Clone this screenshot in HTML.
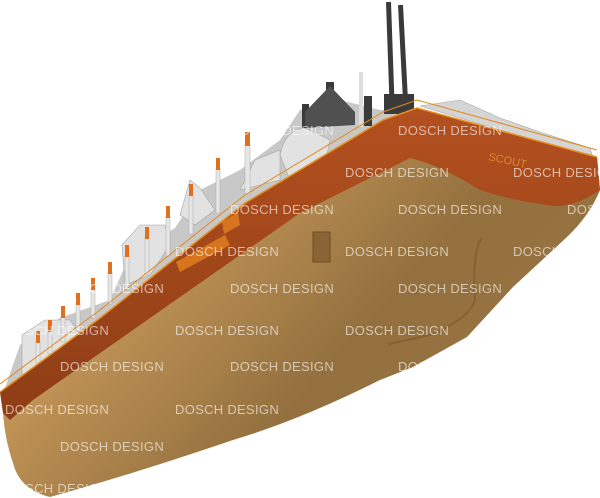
<!DOCTYPE html>
<html><head><meta charset="utf-8"><style>
html,body{margin:0;padding:0;background:#fff;}
svg{display:block}
.w{font-family:"Liberation Sans",sans-serif;font-size:13px;fill:#fff;fill-opacity:.6;letter-spacing:0.3px}
</style></head><body>
<svg width="600" height="498" viewBox="0 0 600 498" xmlns="http://www.w3.org/2000/svg">
<defs>
<linearGradient id="hull" x1="0" y1="0" x2="1" y2="0.6">
<stop offset="0" stop-color="#b98a4e"/><stop offset="0.35" stop-color="#c29457"/><stop offset="0.7" stop-color="#93703e"/><stop offset="1" stop-color="#9a7443"/>
</linearGradient>
<linearGradient id="band" x1="0" y1="0" x2="0" y2="1">
<stop offset="0" stop-color="#b3501f"/><stop offset="1" stop-color="#8e3d16"/>
</linearGradient>
</defs>
<path d="M5 388 L20 345 L60 318 L110 300 L130 255 L175 228 L200 190 L240 170 L280 140 L300 110 L340 100 L380 110 L417 108 L383 120 L245 203 L100 318 L0 392 Z" fill="#c8c8c8"/>
<g fill="#e2e2e2" stroke="#a5a5a5" stroke-width="0.6">
<path d="M22 335 L45 320 L70 320 L80 335 L60 360 L22 380 Z"/>
<path d="M122 245 L140 225 L165 225 L170 245 L150 275 L125 285 Z"/>
<path d="M180 215 L190 180 L200 188 L215 210 L195 225 Z"/>
<path d="M280 155 Q285 130 305 128 L330 140 L325 165 L290 180 Z"/>
<path d="M240 190 L255 160 L280 150 L280 180 Z"/>
<path d="M420 106 L460 100 L500 118 L540 132 L590 148 L593 158 Z" fill="#d5d5d5"/>
</g>
<!-- white poles -->
<g fill="#e6e6e6" stroke="#aaa" stroke-width="0.5">
<rect x="245" y="144" width="5" height="50"/><rect x="216" y="168" width="4" height="45"/>
<rect x="189" y="194" width="4" height="40"/><rect x="166" y="216" width="4" height="40"/>
<rect x="145" y="237" width="4" height="38"/><rect x="125" y="255" width="4" height="35"/>
<rect x="108" y="272" width="4" height="32"/><rect x="91" y="288" width="4" height="30"/>
<rect x="76" y="303" width="4" height="28"/><rect x="61" y="316" width="4" height="26"/>
<rect x="48" y="330" width="4" height="24"/><rect x="36" y="341" width="4" height="22"/>
</g>
<g fill="#3a3a3a">
<rect x="386" y="2" width="5" height="110" transform="rotate(-2 388 2)"/>
<rect x="398" y="5" width="5" height="100" transform="rotate(-3 400 5)"/>
<rect x="326" y="82" width="8" height="38"/>
<rect x="302" y="104" width="7" height="24"/>
<rect x="364" y="96" width="8" height="30"/>
<path d="M305 112 L330 86 L355 112 L355 125 L305 128 Z" fill="#505050"/>
<rect x="384" y="94" width="30" height="20"/>
</g>
<rect x="359" y="72" width="4" height="55" fill="#ddd"/>
<g fill="#e0701e">
<rect x="245" y="132" width="5" height="14"/><rect x="216" y="158" width="4" height="12"/>
<rect x="189" y="184" width="4" height="12"/><rect x="166" y="206" width="4" height="12"/>
<rect x="145" y="227" width="4" height="12"/><rect x="125" y="245" width="4" height="12"/>
<rect x="108" y="262" width="4" height="12"/><rect x="91" y="278" width="4" height="12"/>
<rect x="76" y="293" width="4" height="12"/><rect x="61" y="306" width="4" height="12"/>
<rect x="48" y="320" width="4" height="12"/><rect x="36" y="331" width="4" height="12"/>
</g>
<path d="M0 392 L100 318 L245 203 L383 120 L417 108 L597 157 L600 190 Q590 215 567 237 L513 287 L467 337 L413 367 L380 380 Q300 420 233 440 Q130 475 50 497 Q20 490 13 463 Q5 440 3 413 Z" fill="url(#hull)"/>
<path d="M0 392 L100 318 L245 203 L383 120 L417 108 L597 157 L600 190 Q570 210 547 205 Q510 200 480 190 Q440 165 410 158 L300 213 L33 400 L10 420 L3 413 Z" fill="url(#band)"/>
<path d="M0 384 L100 310 L245 195 L383 112 L417 100 L597 150" fill="none" stroke="#e08a1c" stroke-width="1"/>
<path d="M0 392 L100 318 L245 203 L383 120 L417 108 L597 157" fill="none" stroke="#e89020" stroke-width="1.5"/>
<path d="M176 262 L225 235 L230 245 L180 272 Z" fill="#d6751e"/>
<path d="M222 222 L238 212 L240 225 L224 234 Z" fill="#d6751e"/>
<text x="488" y="160" font-family="Liberation Sans,sans-serif" font-size="11" fill="#d88a2a" transform="rotate(12 488 160)">SCOUT</text>
<rect x="313" y="232" width="17" height="30" fill="#8a6435" stroke="#6d4c25" stroke-width="1"/>
<path d="M482 238 Q472 250 475 300 Q470 318 430 335 L388 344" fill="none" stroke="#6e5029" stroke-width="2" opacity=".45"/>
<g class="w">
<text x="230" y="135">DOSCH DESIGN</text><text x="398" y="135">DOSCH DESIGN</text>
<text x="345" y="177">DOSCH DESIGN</text><text x="513" y="177">DOSCH DESIGN</text>
<text x="230" y="214">DOSCH DESIGN</text><text x="398" y="214">DOSCH DESIGN</text><text x="567" y="214">DOSCH DESIGN</text>
<text x="175" y="256">DOSCH DESIGN</text><text x="345" y="256">DOSCH DESIGN</text><text x="513" y="256">DOSCH DESIGN</text>
<text x="60" y="293">DOSCH DESIGN</text><text x="230" y="293">DOSCH DESIGN</text><text x="398" y="293">DOSCH DESIGN</text>
<text x="5" y="335">DOSCH DESIGN</text><text x="175" y="335">DOSCH DESIGN</text><text x="345" y="335">DOSCH DESIGN</text>
<text x="60" y="371">DOSCH DESIGN</text><text x="230" y="371">DOSCH DESIGN</text><text x="398" y="371">DOSCH DESIGN</text>
<text x="5" y="414">DOSCH DESIGN</text><text x="175" y="414">DOSCH DESIGN</text><text x="345" y="414">DOSCH DESIGN</text>
<text x="60" y="451">DOSCH DESIGN</text><text x="230" y="451">DOSCH DESIGN</text>
<text x="5" y="493">DOSCH DESIGN</text>
</g>
</svg>
</body></html>
